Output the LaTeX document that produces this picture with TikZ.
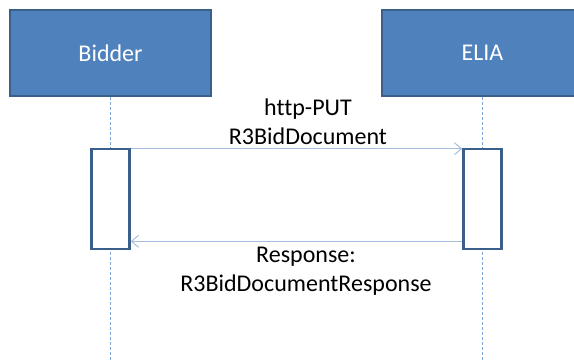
\documentclass[tikz,border=0pt]{standalone}
\usepackage{fontspec}
\setmainfont{Carlito}[Ligatures={NoCommon}]
\usetikzlibrary{arrows.meta}
\definecolor{boxfill}{HTML}{4F81BD}
\definecolor{boxline}{HTML}{3A5F8B}
\definecolor{lifeline}{HTML}{7FA6D8}
\definecolor{msgline}{HTML}{A7BFDE}
\tikzset{
  actor/.style={draw=boxline, line width=2pt, fill=boxfill, text=white, minimum width=201pt, minimum height=86pt, inner sep=0pt, font=\fontsize{24}{29}\selectfont},
  activation/.style={draw=boxline, line width=2.6pt, fill=white, minimum width=38pt, minimum height=100pt, inner sep=0pt},
  lifel/.style={draw=lifeline, line width=0.8pt, dash pattern=on 2.5pt off 2.5pt},
  msg/.style={draw=msgline, line width=1.1pt, -{Straight Barb[length=7pt,width=12pt,line width=1pt]}},
  lbl/.style={align=center, font=\fontsize{24}{29}\selectfont, text=black, inner sep=0pt}
}
\begin{document}
\begin{tikzpicture}[x=1pt,y=-1pt]
\useasboundingbox (0,0) rectangle (574,360);
\clip (0,0) rectangle (574,360);
\node[actor] (bidder) at (110.5,53) {Bidder};
\node[actor] (elia) at (482.5,53) {ELIA};
\coordinate (bend) at (110.5,360);
\coordinate (eend) at (482.5,360);
\draw[lifel] (bidder.south) -- (bend);
\draw[lifel] (elia.south) -- (eend);
\node[activation] (actb) at (110.5,199) {};
\node[activation] (acte) at (482.5,199) {};
\coordinate (m1s) at ([yshift=-1pt]actb.north east);
\coordinate (m1e) at ([yshift=-1pt]acte.north west);
\draw[msg] (m1s) -- (m1e);
\coordinate (m2s) at ([yshift=9pt]acte.south west);
\coordinate (m2e) at ([yshift=9pt]actb.south east);
\draw[msg] (m2s) -- (m2e);
\node[lbl, anchor=base] (l1) at (308,144) {http-PUT\\R3BidDocument};
\node[lbl, anchor=base] (l2) at (306,291) {Response:\\R3BidDocumentResponse};
\end{tikzpicture}
\end{document}
